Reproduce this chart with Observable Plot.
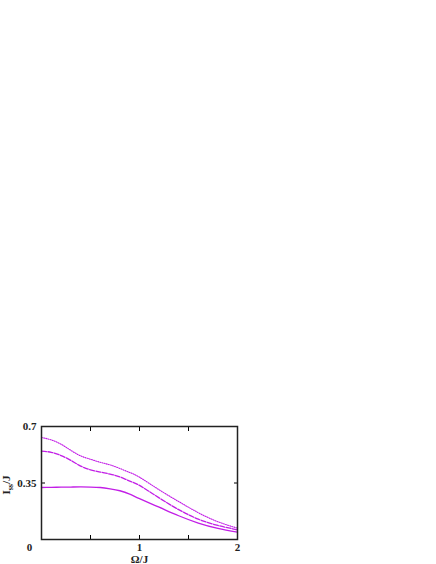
<!DOCTYPE html>
<html><head><meta charset="utf-8">
<script src="https://cdn.jsdelivr.net/npm/d3@7"></script>
<script src="https://cdn.jsdelivr.net/npm/@observablehq/plot@0.6"></script>
<style>html,body{margin:0;padding:0;background:#fff}svg{display:block}</style>
</head><body><div id="chart"></div>
<script>
const omega = [0, 0.1, 0.2, 0.3, 0.4, 0.5, 0.6, 0.7, 0.8, 0.9, 1.0, 1.2, 1.4, 1.6, 1.8, 2.0];
const solid = [0.322, 0.323, 0.324, 0.325, 0.326, 0.325, 0.322, 0.314, 0.302, 0.281, 0.253, 0.200, 0.147, 0.102, 0.069, 0.045];
const dashed = [0.547, 0.540, 0.520, 0.490, 0.455, 0.432, 0.418, 0.405, 0.388, 0.362, 0.335, 0.258, 0.185, 0.126, 0.087, 0.060];
const dotted = [0.632, 0.617, 0.590, 0.552, 0.518, 0.497, 0.478, 0.462, 0.440, 0.415, 0.386, 0.308, 0.235, 0.166, 0.110, 0.070];
const xTickLabels = [1, 2];
const originLabel = [0];
const yTickLabels = [0.35, 0.7];
const xMinorTicks = [0, 0.5, 1, 1.5, 2];
const yMinorTicks = [0, 0.35, 0.7];

const color = "#c21ee6";
const toRows = (ys) => omega.map((x, i) => ({x, y: ys[i]}));
const font = "Liberation Serif, Times New Roman, serif";

const chart = Plot.plot({
  width: 436, height: 564,
  marginLeft: 41, marginRight: 199, marginTop: 426, marginBottom: 25,
  style: {fontFamily: font, fontSize: "11px", background: "#fff"},
  x: {domain: [0, 2]},
  y: {domain: [0, 0.7]},
  marks: [
    Plot.line(toRows(solid), {x: "x", y: "y", stroke: color, strokeWidth: 1.3, curve: "natural"}),
    Plot.line(toRows(dashed), {x: "x", y: "y", stroke: color, strokeWidth: 1.3, strokeDasharray: "5,1.5", curve: "natural"}),
    Plot.line(toRows(dotted), {x: "x", y: "y", stroke: color, strokeWidth: 1.1, strokeDasharray: "1,1.2", curve: "natural"}),
    Plot.axisX({anchor: "bottom", ticks: xMinorTicks, tickSize: -4, tickFormat: () => "", label: null, stroke: "#000"}),
    Plot.axisX({anchor: "top", ticks: xMinorTicks, tickSize: -4, tickFormat: () => "", label: null, stroke: "#000"}),
    Plot.axisY({anchor: "left", ticks: yMinorTicks, tickSize: -4, tickFormat: () => "", label: null, stroke: "#000"}),
    Plot.axisY({anchor: "right", ticks: yMinorTicks, tickSize: -4, tickFormat: () => "", label: null, stroke: "#000"}),
    Plot.frame({stroke: "#222", strokeWidth: 1.5}),
    Plot.text(xTickLabels, {x: d => d, y: 0, text: d => String(d), dy: 8, fontWeight: "bold", fontSize: 11, fill: "#222"}),
    Plot.text(originLabel, {x: d => d, y: 0, text: d => String(d), dy: 8, dx: -12, fontWeight: "bold", fontSize: 11, fill: "#222"}),
    Plot.text(yTickLabels, {x: 0, y: d => d, text: d => String(d), dx: -5, textAnchor: "end", fontWeight: "bold", fontSize: 11, fill: "#222"}),
    Plot.text(["Ω/J"], {x: 1, y: 0, text: d => d, dy: 19.5, fontWeight: "bold", fontSize: 11, fill: "#222"})
  ]
});

// y-axis label with subscript
const svg = d3.select(chart);
const lbl = svg.append("text")
  .attr("transform", "translate(10,485) rotate(-90)")
  .attr("text-anchor", "middle")
  .attr("font-family", font)
  .attr("font-size", 11)
  .attr("font-weight", "bold")
  .attr("fill", "#222");
lbl.append("tspan").text("I");
lbl.append("tspan").attr("font-size", 8).attr("dy", 3).text("ss");
lbl.append("tspan").attr("dy", -3).text("/J");

document.getElementById("chart").appendChild(chart);
</script>
</body></html>
